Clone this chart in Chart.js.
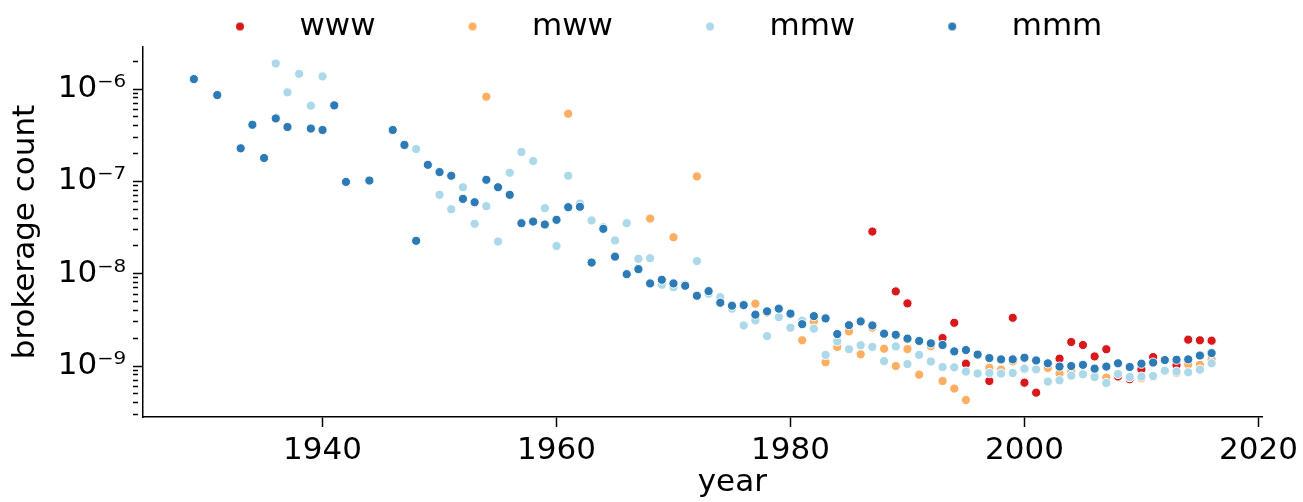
<!DOCTYPE html>
<html>
<head>
<meta charset="utf-8">
<title>brokerage count by year</title>
<script src="https://cdn.jsdelivr.net/npm/chart.js@4.4.1/dist/chart.umd.min.js"></script>
<style>
  html, body { margin: 0; padding: 0; background: #fff; }
  #wrap { width: 1303px; height: 502px; }
</style>
</head>
<body>
<div id="wrap"><canvas id="chart" width="1303" height="502"></canvas></div>
<script>
// consecutive years, inclusive
const span = (a, b) => Array.from({ length: b - a + 1 }, (_, i) => a + i);

// --- data ---
const wwwYears  = [1987, 1989, 1990, 1993, 1994, 1995, 1997, 1999, 2000, 2001, 2003, 2004,
                   2005, 2006, 2007, 2008, 2009, 2010, 2011, 2013, 2014, 2015, 2016];
const wwwCounts = [2.86e-8, 6.43e-9, 4.77e-9, 2.01e-9, 2.94e-9, 1.06e-9, 6.89e-10, 3.33e-9,
                   6.6e-10, 5.15e-10, 1.2e-9, 1.82e-9, 1.69e-9, 1.27e-9, 1.52e-9, 7.7e-10,
                   7.2e-10, 9.2e-10, 1.25e-9, 1.02e-9, 1.93e-9, 1.9e-9, 1.88e-9];

const mwwYears  = [1954, 1961, 1968, 1970, 1972, 1977, 1978, ...span(1981, 2016)];
const mwwCounts = [8.25e-7, 5.4e-7, 3.95e-8, 2.48e-8, 1.13e-7, 4.73e-9, 3.78e-9,
                   1.9e-9, 3.04e-9, 1.1e-9, 1.61e-9, 2.37e-9, 1.34e-9, 2.6e-9, 1.54e-9, 1.0e-9, 1.53e-9,
                   8.07e-10, 1.64e-9, 6.89e-10, 5.7e-10, 4.29e-10, 8.4e-10, 9.55e-10, 9.14e-10, 1.12e-9, 9.2e-10,
                   9.3e-10, 9.55e-10, 8.28e-10, 8.74e-10, 8.3e-10, 7.93e-10, 7.5e-10, 8.28e-10, 7.6e-10, 7.36e-10,
                   7.6e-10, 9.0e-10, 8.4e-10, 1.04e-9, 1.03e-9, 1.18e-9];

const mmwYears  = [1936, 1937, 1938, 1939, 1940, 1948, ...span(1950, 2016)];
const mmwCounts = [1.89e-6, 9.2e-7, 1.46e-6, 6.6e-7, 1.37e-6, 2.24e-7,
                   7.14e-8, 4.99e-8, 8.63e-8, 3.47e-8, 5.38e-8, 2.23e-8, 1.24e-7, 2.08e-7, 1.66e-7, 5.12e-8,
                   2.0e-8, 1.15e-7, 5.75e-8, 3.77e-8, 3.19e-8, 2.29e-8, 3.52e-8, 1.45e-8, 1.47e-8, 7.6e-9,
                   7.15e-9, 7.65e-9, 1.37e-8, 6.07e-9, 5.57e-9, 4.18e-9, 2.75e-9, 3.12e-9, 2.11e-9, 3.39e-9,
                   2.6e-9, 3.1e-9, 2.54e-9, 1.32e-9, 1.85e-9, 1.52e-9, 1.68e-9, 1.61e-9, 1.13e-9, 1.63e-9,
                   1.05e-9, 1.32e-9, 1.12e-9, 9.76e-10, 9.68e-10, 8.7e-10, 8.3e-10, 8.4e-10, 8.28e-10, 8.4e-10,
                   9.37e-10, 9.2e-10, 6.78e-10, 7.0e-10, 7.87e-10, 8.13e-10, 7.6e-10, 6.55e-10, 8.2e-10, 7.6e-10,
                   7.68e-10, 7.8e-10, 8.9e-10, 8.7e-10, 8.55e-10, 9.14e-10, 1.07e-9];

const mmmYears  = [1929, 1931, 1933, 1934, 1935, 1936, 1937, 1939, 1940, 1941, 1942, 1944, 1946,
                   ...span(1947, 2016)];
const mmmCounts = [1.28e-6, 8.6e-7, 2.28e-7, 4.1e-7, 1.79e-7, 4.8e-7, 3.88e-7, 3.73e-7, 3.6e-7,
                   6.65e-7, 9.86e-8, 1.02e-7, 3.6e-7,
                   2.48e-7, 2.27e-8, 1.51e-7, 1.26e-7, 1.15e-7, 6.46e-8, 5.94e-8, 1.04e-7, 8.63e-8, 7.14e-8,
                   3.52e-8, 3.67e-8, 3.41e-8, 3.83e-8, 5.25e-8, 5.3e-8, 1.32e-8, 3.06e-8, 1.53e-8, 9.88e-9,
                   1.12e-8, 7.84e-9, 8.59e-9, 7.84e-9, 7.4e-9, 5.77e-9, 6.47e-9, 4.85e-9, 4.5e-9, 4.57e-9,
                   3.6e-9, 3.91e-9, 4.18e-9, 3.69e-9, 2.84e-9, 3.47e-9, 3.28e-9, 2.22e-9, 2.77e-9, 3.04e-9,
                   2.75e-9, 2.24e-9, 2.18e-9, 1.98e-9, 1.87e-9, 1.76e-9, 1.69e-9, 1.44e-9, 1.49e-9, 1.33e-9,
                   1.22e-9, 1.18e-9, 1.18e-9, 1.23e-9, 1.15e-9, 1.07e-9, 9.86e-10, 1.0e-9, 1.03e-9, 9.37e-10,
                   9.86e-10, 1.07e-9, 9.76e-10, 1.06e-9, 1.09e-9, 1.16e-9, 1.17e-9, 1.18e-9, 1.3e-9, 1.38e-9];

const seriesNames  = ["www", "mww", "mmw", "mmm"];
const seriesColors = ["#d7191c", "#fdae61", "#abd9e9", "#2c7bb6"];
const xTickValues  = [1940, 1960, 1980, 2000, 2020];
const yMajorExps   = [-9, -8, -7, -6];

// axis limits (matplotlib-style 5% margins)
const X_MIN = 1924.65, X_MAX = 2020.35;
const Y_MIN = Math.pow(10, -9.552), Y_MAX = Math.pow(10, -5.545);

const FONT_SIZE = 31;
const LEGEND_BOX = 133; // space reserved before each legend label

const SUP = { "-": "\u207B", "0": "\u2070", "1": "\u00B9", "2": "\u00B2", "3": "\u00B3", "4": "\u2074",
              "5": "\u2075", "6": "\u2076", "7": "\u2077", "8": "\u2078", "9": "\u2079" };
const sup = n => String(n).split("").map(c => SUP[c]).join("");

const zip = (xs, ys) => xs.map((x, i) => ({ x, y: ys[i] }));

// log ticks: majors at 10^n, minors at k*10^n
function yTickList(){
  const ticks = [];
  for (let e = -10; e <= -5; e++) {
    for (let k = 1; k <= 9; k++) {
      const v = k * Math.pow(10, e);
      if (v >= Y_MIN && v <= Y_MAX) ticks.push({ value: v, major: k === 1 && yMajorExps.includes(e), exp: e });
    }
  }
  return ticks;
}

// small transparent strip with the dot sitting just before the label
function legendDot(color){
  const c = document.createElement("canvas");
  c.width = LEGEND_BOX; c.height = 10;
  const g = c.getContext("2d");
  g.fillStyle = color;
  g.beginPath();
  g.arc(LEGEND_BOX - 44, 5, 4, 0, Math.PI * 2);
  g.fill();
  return c;
}

Chart.defaults.font.family = "'DejaVu Sans', sans-serif";
Chart.defaults.color = "#000";

const pairs = [[wwwYears, wwwCounts], [mwwYears, mwwCounts], [mmwYears, mmwCounts], [mmmYears, mmmCounts]];
const datasets = pairs.map(([xs, ys], i) => ({
  label: seriesNames[i],
  data: zip(xs, ys),
  backgroundColor: seriesColors[i],
  borderColor: "#ffffff",
  borderWidth: 1,
  pointRadius: 4.6,
  pointHoverRadius: 4.6,
  order: 3 - i          // mmm drawn on top
}));

const axisLine = { color: "#000", width: 1.5 };

new Chart(document.getElementById("chart"), {
  type: "scatter",
  data: { datasets },
  options: {
    responsive: false,
    animation: false,
    layout: { padding: { top: 3, right: 39, bottom: 0, left: 0 } },
    plugins: {
      tooltip: { enabled: false },
      legend: {
        position: "top",
        align: "start",
        fullSize: false,
        maxHeight: 44,
        labels: {
          usePointStyle: true,
          pointStyleWidth: LEGEND_BOX,
          boxHeight: 8,
          padding: 8,
          color: "#000",
          font: { size: FONT_SIZE },
          sort: (a, b) => a.datasetIndex - b.datasetIndex,
          generateLabels: chart => Chart.defaults.plugins.legend.labels.generateLabels(chart)
            .map(item => ({ ...item, pointStyle: legendDot(seriesColors[item.datasetIndex]) }))
        }
      }
    },
    scales: {
      x: {
        type: "linear",
        min: X_MIN,
        max: X_MAX,
        afterBuildTicks: s => { s.ticks = xTickValues.map(v => ({ value: v })); },
        afterFit: s => { s.height = 85; },
        border: axisLine,
        grid: { drawOnChartArea: false, tickLength: 10, tickWidth: 1.5, tickColor: "#000" },
        ticks: { font: { size: FONT_SIZE }, color: "#000", padding: 5, maxRotation: 0, autoSkip: false,
                 callback: v => String(v) },
        // the label sits a little right of the axis centre in the original
        title: { display: true, text: "      year", font: { size: FONT_SIZE }, color: "#000",
                 padding: { top: 0, bottom: 0 } }
      },
      y: {
        type: "logarithmic",
        min: Y_MIN,
        max: Y_MAX,
        afterBuildTicks: s => { s.ticks = yTickList(); },
        afterFit: s => { s.width = 143; },
        border: axisLine,
        grid: {
          drawOnChartArea: false, tickLength: 10, tickWidth: 1.5, tickColor: "#000",
          tickBorderDash: c => (c.tick && c.tick.major) ? [] : [5, 40]
        },
        ticks: { font: { size: FONT_SIZE }, color: "#000", padding: 7, autoSkip: false,
                 callback: (v, i, ticks) => ticks[i].major ? "10" + sup(ticks[i].exp) : "" },
        title: { display: true, text: "brokerage count", font: { size: FONT_SIZE }, color: "#000",
                 padding: { top: 7, bottom: 0 } }
      }
    }
  }
});
</script>
</body>
</html>
